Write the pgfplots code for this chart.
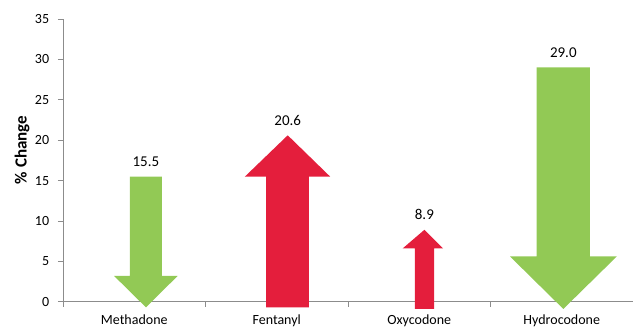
\documentclass[border=0pt]{standalone}
\usepackage{pgfplots}
\pgfplotsset{compat=1.18}
\usepackage{fontspec}
\setmainfont{Carlito}
\definecolor{upred}{HTML}{E41E3C}
\definecolor{downgreen}{HTML}{92C955}
\definecolor{axisgray}{HTML}{8C8C8C}

\begin{document}
\begin{tikzpicture}
\begin{axis}[
  at={(0,0)}, anchor=south west,
  scale only axis, width=570bp, height=282.7bp,
  xmin=0, xmax=4, ymin=0, ymax=35,
  clip=false,
  axis lines*=left,
  axis line style={axisgray, line width=0.8pt},
  every tick/.style={axisgray, line width=0.8pt},
  tick align=outside,
  major tick length=5bp,
  xtick={0,1,2,3,4},
  x tick label as interval,
  xticklabels={Methadone,Fentanyl,Oxycodone,Hydrocodone},
  ytick={0,5,...,35},
  /pgf/number format/assume math mode=true,
  tick label style={font=\fontsize{14bp}{16bp}\selectfont, text=black},
  xticklabel style={anchor=base, inner sep=0pt, yshift=-17.4bp},
  yticklabel style={anchor=east, inner sep=0pt, xshift=-8.7bp},
  ylabel={\% Change},
  ylabel style={at={(rel axis cs:0,0.537)}, anchor=center, rotate=0, yshift=41bp,
    font=\fontsize{17bp}{20bp}\selectfont\bfseries},
]
% Arrows: green = decrease, red = increase; the labelled value sets the arrow's far end
\addplot[fill=downgreen, draw=none] coordinates {
  (0.470,15.5) (0.693,15.5) (0.693,3.2) (0.805,3.2) (0.582,-0.7) (0.358,3.2) (0.470,3.2)} -- cycle;
\addplot[fill=upred, draw=none] coordinates {
  (1.425,-0.7) (1.726,-0.7) (1.726,15.5) (1.874,15.5) (1.577,20.6) (1.277,15.5) (1.425,15.5)} -- cycle;
\addplot[fill=upred, draw=none] coordinates {
  (2.470,-0.9) (2.604,-0.9) (2.604,6.6) (2.667,6.6) (2.536,8.9) (2.384,6.6) (2.470,6.6)} -- cycle;
\addplot[fill=downgreen, draw=none] coordinates {
  (3.324,29.0) (3.698,29.0) (3.698,5.6) (3.886,5.6) (3.511,-0.9) (3.137,5.6) (3.324,5.6)} -- cycle;
% Value labels
\addplot[draw=none, nodes near coords, point meta=explicit symbolic,
  nodes near coords style={anchor=base, inner sep=0pt, yshift=10bp,
    font=\fontsize{15bp}{17bp}\selectfont, text=black}]
  coordinates {(0.582,15.5) [15.5] (1.577,20.6) [20.6] (2.536,8.9) [8.9] (3.511,29.0) [29.0]};
\end{axis}
\pgfresetboundingbox
\path[use as bounding box] (-63bp,-26.3bp) rectangle (570bp,301.7bp);
\end{tikzpicture}
\end{document}
